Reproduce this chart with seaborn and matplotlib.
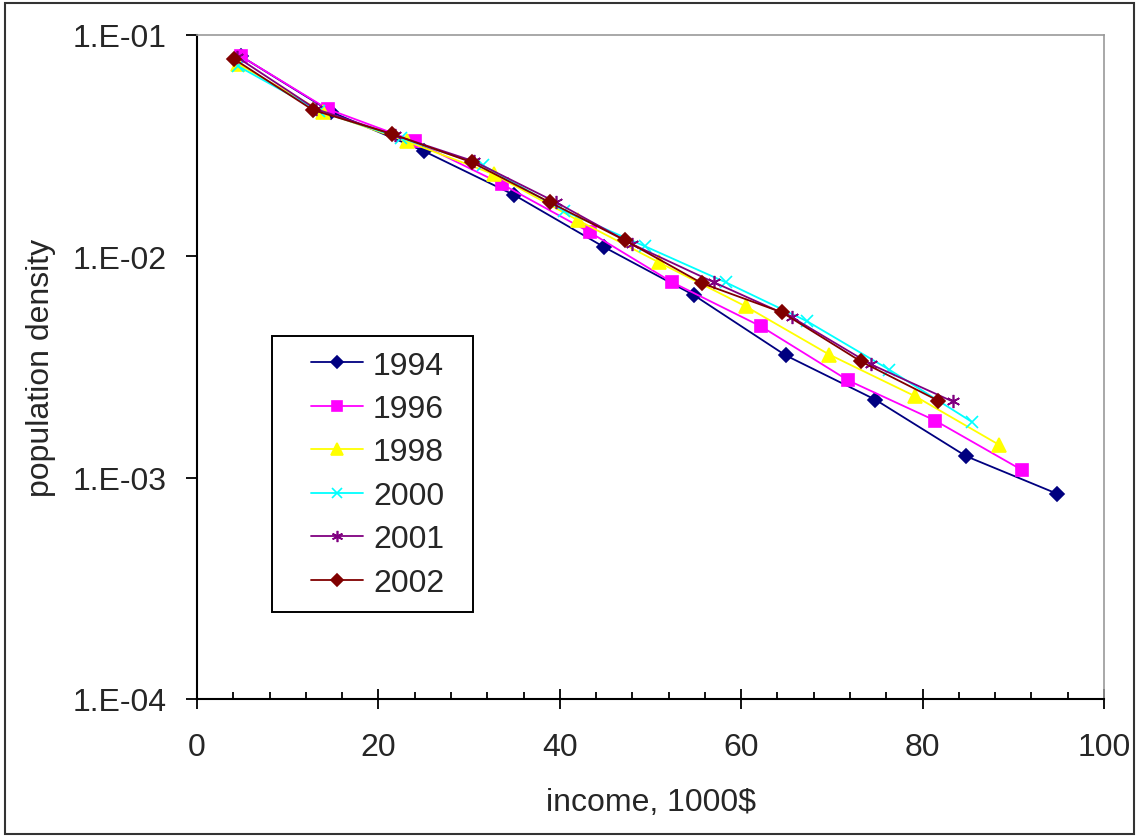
import numpy as np
import pandas as pd
import matplotlib
matplotlib.use('Agg')
import matplotlib.pyplot as plt
import matplotlib.patches as mpatches
import seaborn as sns

# Series (income in 1000$, population density)
years = ['1994', '1996', '1998', '2000', '2001', '2002']
income_1994 = [4.8, 14.8, 25.0, 35.0, 44.9, 54.8, 64.9, 74.8, 84.8, 94.8]
density_1994 = [0.0804, 0.0449, 0.0299, 0.0189, 0.0110, 0.00667, 0.00357, 0.00225, 0.00125, 0.000847]
income_1996 = [4.8, 14.4, 24.0, 33.6, 43.3, 52.4, 62.2, 71.8, 81.4, 91.0]
density_1996 = [0.0804, 0.0463, 0.0331, 0.0212, 0.01285, 0.00763, 0.00482, 0.00275, 0.00181, 0.00108]
income_1998 = [4.5, 13.9, 23.1, 32.7, 42.0, 50.9, 60.5, 69.7, 79.2, 88.4]
density_1998 = [0.074, 0.0449, 0.0331, 0.0235, 0.01455, 0.0094, 0.00594, 0.0036, 0.00233, 0.00141]
income_2000 = [4.5, 13.5, 22.5, 31.5, 40.5, 49.4, 58.3, 67.3, 76.3, 85.4]
density_2000 = [0.0724, 0.0453, 0.0342, 0.0258, 0.0160, 0.0111, 0.00763, 0.00508, 0.00308, 0.00179]
income_2001 = [4.4, 13.1, 21.8, 30.5, 39.6, 48.0, 57.0, 65.6, 74.3, 83.3]
density_2001 = [0.0795, 0.0463, 0.0353, 0.0269, 0.01754, 0.01133, 0.00763, 0.0053, 0.00325, 0.00221]
income_2002 = [4.1, 12.8, 21.5, 30.3, 38.9, 47.2, 55.7, 64.5, 73.2, 81.7]
density_2002 = [0.0778, 0.0458, 0.0357, 0.0266, 0.01754, 0.0118, 0.00755, 0.00558, 0.00335, 0.00223]

y_ticks = [1e-4, 1e-3, 1e-2, 1e-1]
y_ticklabels = ['1.E-04', '1.E-03', '1.E-02', '1.E-01']
x_ticks = [0, 20, 40, 60, 80, 100]

incomes = [income_1994, income_1996, income_1998, income_2000, income_2001, income_2002]
densities = [density_1994, density_1996, density_1998, density_2000, density_2001, density_2002]

# Excel-like styling
colors = ['#000080', '#ff00ff', '#ffff00', '#00ffff', '#800080', '#800000']
markers = ['D', 's', '^', 'x', (6, 2, 0), 'D']
msizes = [7.5, 9, 10, 8.5, 9.5, 7.5]

sns.set_style('white')
plt.rcParams['font.family'] = ['Liberation Sans', 'DejaVu Sans']
fs = 23

fig = plt.figure(figsize=(11.39, 8.37), dpi=100, facecolor='w')
ax = fig.add_axes([197 / 1139, 1 - 700 / 837, 907 / 1139, 664 / 837])

for year, inc, dens, c, m, ms in zip(years, incomes, densities, colors, markers, msizes):
    df = pd.DataFrame({'income': inc, 'density': dens})
    sns.lineplot(
        ax=ax, data=df, x='income', y='density', sort=False, color=c, marker=m,
        markersize=ms, markeredgecolor=c, markerfacecolor=c, markeredgewidth=1.2,
        linewidth=1.3, label=year
    )

ax.set_yscale('log')
ax.set_ylim(1e-4, 1e-1)
ax.set_xlim(0, 100)
ax.set_yticks(y_ticks)
ax.set_yticklabels(y_ticklabels)
ax.yaxis.set_minor_locator(matplotlib.ticker.NullLocator())
ax.set_xticks(x_ticks)
ax.xaxis.set_minor_locator(matplotlib.ticker.MultipleLocator(4))

ax.tick_params(axis='y', which='major', direction='out', length=8, width=1.3,
               color='black', labelsize=fs, pad=14, left=True)
ax.tick_params(axis='x', which='major', direction='inout', length=15, width=1.3,
               color='black', labelsize=fs, pad=16, bottom=True)
ax.tick_params(axis='x', which='minor', direction='in', length=5, width=1.3,
               color='black', bottom=True)

for side in ['left', 'bottom']:
    ax.spines[side].set_color('black')
    ax.spines[side].set_linewidth(1.5)
for side in ['top', 'right']:
    ax.spines[side].set_color('#999999')
    ax.spines[side].set_linewidth(1.2)

ax.set_xlabel('income, 1000$', fontsize=fs, labelpad=18)
ax.set_ylabel('population density', fontsize=fs, labelpad=12)

# Legend with Excel-like box
box = mpatches.Rectangle((0.0827, 0.131), 0.2214, 0.415, transform=ax.transAxes,
                         facecolor='white', edgecolor='black', linewidth=1.4, zorder=4)
ax.add_patch(box)
ax.legend(loc='center', bbox_to_anchor=(0.199, 0.3386), frameon=False, fontsize=fs,
          handlelength=1.65, handletextpad=0.3, labelspacing=0.42, borderpad=0.2,
          markerscale=0.85)

# Outer chart border
fig.patches.append(mpatches.Rectangle((5 / 1139, 2 / 837), 1129 / 1139, 831 / 837,
                                      transform=fig.transFigure, fill=False,
                                      edgecolor='#333333', linewidth=1.5))

plt.savefig('out.png', dpi=100, facecolor='w')
